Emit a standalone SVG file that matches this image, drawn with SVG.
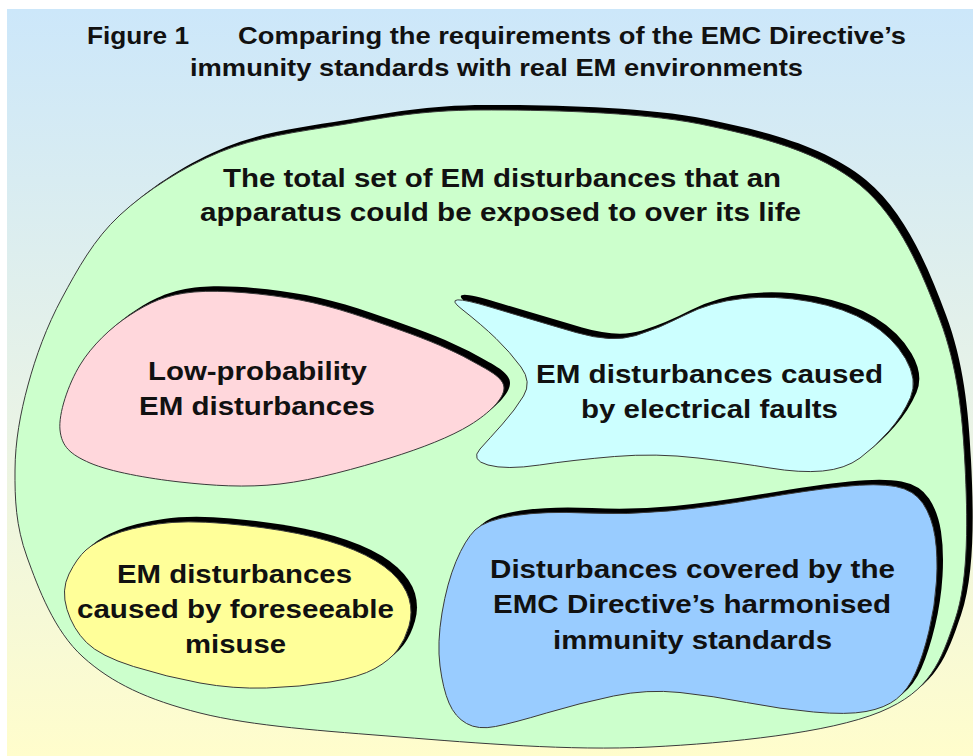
<svg xmlns="http://www.w3.org/2000/svg" xmlns:xlink="http://www.w3.org/1999/xlink" width="973" height="756" viewBox="0 0 973 756">
  <defs>
    <linearGradient id="bg" x1="0" y1="0" x2="0" y2="1">
      <stop offset="0" stop-color="#CCE7FA"/>
      <stop offset="0.55" stop-color="#E9F3E6"/>
      <stop offset="1" stop-color="#FFFDCC"/>
    </linearGradient>
    <!-- region outlines; each is drawn twice: a black drop shadow and the filled shape -->
    <path id="shape-total" d="M 480,110 C 540,109.8 636.7,111.5 700,124 C 763,137 820,152 860,185 C 900,218 922.5,273.3 940,320 C 957.5,366.7 962.5,415 965,465 C 967.5,515 969.2,578.8 955,620 C 940.8,661.2 931,691 880,712 C 829,733 730,743 650,747 C 570,751 475,743 400,737 C 325,731 252.8,726.3 200,713 C 147.2,699.7 111.8,683 83,657 C 54.2,631 38.3,588.2 27,557 C 15.7,525.8 14.8,498.7 15,470 C 15.2,441.3 20.2,413.7 28,385 C 35.8,356.3 46.7,326.3 62,298 C 77.3,269.7 93.7,239.3 120,215 C 146.3,190.7 183.3,167 220,152 C 256.7,137 296.7,132 340,125 C 383.3,118 420,110.2 480,110 Z"/>
    <path id="shape-lowprob" d="M 194,292 C 222.3,289.5 265.7,293.7 300,300 C 334.3,306.3 371.7,320 400,330 C 428.3,340 452.7,350.3 470,360 C 487.3,369.7 504,377.2 504,388 C 504,398.8 489,413.3 470,425 C 451,436.7 421.7,448.2 390,458 C 358.3,467.8 315,480 280,484 C 245,488 211.7,485.5 180,482 C 148.3,478.5 110,471.7 90,463 C 70,454.3 61.7,446.3 60,430 C 58.3,413.7 68.3,384.2 80,365 C 91.7,345.8 111,327.2 130,315 C 149,302.8 165.7,294.5 194,292 Z"/>
    <path id="shape-faults" d="M 490,307 Q 540,322 576,332.5 Q 612,343 636,335.5 Q 660,328 685,315 Q 710,302 742.5,298.5 Q 775,295 810,301.5 Q 845,308 869,322.5 Q 893,337 905.5,358.5 Q 918,380 910.5,397.5 Q 903,415 889,431 Q 875,447 860,458 Q 845,469 822.5,471 Q 800,473 770,468 Q 740,463 698,458 Q 656,453 614.5,456.5 Q 573,460 539.5,465 Q 506,470 488,465 Q 470,460 480,449 Q 490,438 502.5,424 Q 515,410 523.5,396 Q 532,382 521,367 Q 510,352 496,338.5 Q 482,325 461,308.5 Q 440,292 490,307 Z"/>
    <path id="shape-misuse" d="M 157.5,524 Q 185,520 225,523.5 Q 265,527 297.5,533.5 Q 330,540 354,550 Q 378,560 391.5,572.5 Q 405,585 409,598.5 Q 413,612 409,626 Q 405,640 397.5,650 Q 390,660 375,668.5 Q 360,677 330,682 Q 300,687 266.5,688 Q 233,689 200,683 Q 167,677 133.5,666.5 Q 100,656 86.5,642.5 Q 73,629 67,609.5 Q 61,590 69,574 Q 77,558 86,550 Q 95,542 112.5,535 Q 130,528 157.5,524 Z"/>
    <path id="shape-harmonised" d="M 515,515.5 Q 545,511 586,513 Q 627,515 668.5,511 Q 710,507 760,498.5 Q 810,490 843.5,486.5 Q 877,483 895.5,486.5 Q 914,490 923,503.5 Q 932,517 935,536.5 Q 938,556 936.5,581 Q 935,606 929,631 Q 923,656 915.5,673 Q 908,690 896.5,699 Q 885,708 866,711.5 Q 847,715 813.5,712 Q 780,709 746.5,702.5 Q 713,696 680,692.5 Q 647,689 613.5,696 Q 580,703 546.5,713 Q 513,723 495.5,726.5 Q 478,730 466.5,723.5 Q 455,717 449,703 Q 443,689 440,666 Q 437,643 442,613 Q 447,583 456,561.5 Q 465,540 475,530 Q 485,520 515,515.5 Z"/>
  </defs>
  <style>
    .shadow { fill: #000000; stroke: none; }
    .outline { stroke: #3a3a3a; stroke-width: 1; }
    .title { font-family: "Liberation Sans", Arial, sans-serif; font-weight: bold; font-size: 24px; fill: #111111; }
    .label { font-family: "Liberation Sans", Arial, sans-serif; font-weight: bold; font-size: 25px; fill: #111111; }
  </style>

  <!-- page -->
  <rect x="0" y="0" width="973" height="756" fill="#FFFFFF"/>
  <rect x="7" y="9" width="966" height="747" fill="url(#bg)"/>

  <g id="title">
    <text class="title" x="87" y="44" textLength="102" lengthAdjust="spacingAndGlyphs">Figure 1</text>
    <text class="title" x="238" y="44" textLength="668" lengthAdjust="spacingAndGlyphs">Comparing the requirements of the EMC Directive’s</text>
    <text class="title" x="190" y="76" textLength="613" lengthAdjust="spacingAndGlyphs">immunity standards with real EM environments</text>
  </g>

  <g id="node-total">
    <use xlink:href="#shape-total" class="shadow" transform="translate(6,-5)"/>
    <use xlink:href="#shape-total" class="outline" fill="#CCFFCC"/>
    <text class="label" x="223" y="187" textLength="558" lengthAdjust="spacingAndGlyphs">The total set of EM disturbances that an</text>
    <text class="label" x="200" y="221" textLength="601" lengthAdjust="spacingAndGlyphs">apparatus could be exposed to over its life</text>
  </g>

  <g id="node-low-probability">
    <use xlink:href="#shape-lowprob" class="shadow" transform="translate(6,-5)"/>
    <use xlink:href="#shape-lowprob" class="outline" fill="#FFD7DC"/>
    <text class="label" x="148" y="380" textLength="219" lengthAdjust="spacingAndGlyphs">Low-probability</text>
    <text class="label" x="139" y="415" textLength="236" lengthAdjust="spacingAndGlyphs">EM disturbances</text>
  </g>

  <g id="node-electrical-faults">
    <use xlink:href="#shape-faults" class="shadow" transform="translate(6,-5)"/>
    <use xlink:href="#shape-faults" class="outline" fill="#CCFFFF"/>
    <text class="label" x="536" y="383" textLength="347" lengthAdjust="spacingAndGlyphs">EM disturbances caused</text>
    <text class="label" x="581" y="418" textLength="257" lengthAdjust="spacingAndGlyphs">by electrical faults</text>
  </g>

  <g id="node-foreseeable-misuse">
    <use xlink:href="#shape-misuse" class="shadow" transform="translate(6,-5)"/>
    <use xlink:href="#shape-misuse" class="outline" fill="#FFFF99"/>
    <text class="label" x="117" y="583" textLength="235" lengthAdjust="spacingAndGlyphs">EM disturbances</text>
    <text class="label" x="77" y="618" textLength="317" lengthAdjust="spacingAndGlyphs">caused by foreseeable</text>
    <text class="label" x="185" y="653" textLength="101" lengthAdjust="spacingAndGlyphs">misuse</text>
  </g>

  <g id="node-harmonised-standards">
    <use xlink:href="#shape-harmonised" class="shadow" transform="translate(6,-5)"/>
    <use xlink:href="#shape-harmonised" class="outline" fill="#99CCFF"/>
    <text class="label" x="490" y="578" textLength="405" lengthAdjust="spacingAndGlyphs">Disturbances covered by the</text>
    <text class="label" x="493" y="613" textLength="398" lengthAdjust="spacingAndGlyphs">EMC Directive’s harmonised</text>
    <text class="label" x="553" y="649" textLength="279" lengthAdjust="spacingAndGlyphs">immunity standards</text>
  </g>
</svg>
